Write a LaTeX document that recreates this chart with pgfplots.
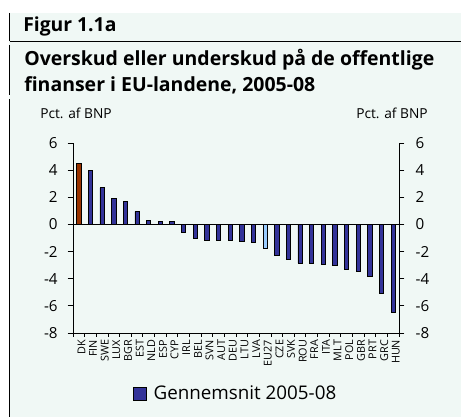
\documentclass[border=0pt]{standalone}
\usepackage{fontspec}
\setmainfont{Open Sans}[Ligatures=NoCommon]
\usepackage{pgfplots}
\pgfplotsset{compat=1.18}
\definecolor{mint}{HTML}{F0F8F5}
\definecolor{barblue}{HTML}{333399}
\definecolor{dkred}{HTML}{993300}
\definecolor{eulight}{HTML}{99CCFF}
\begin{document}
\begin{tikzpicture}[x=0.75pt,y=0.75pt]
\fill[white] (0,0) rectangle (461,417);
\fill[mint] (9,0) rectangle (461,404);
\draw[line width=0.9pt] (9.5,404)--(9.5,376);
\draw[line width=0.9pt] (9.5,375.5)--(461,375.5);
\draw[line width=0.9pt] (9.5,372)--(9.5,322);
\draw[line width=0.9pt] (9.5,318)--(9.5,0);
\node[anchor=base west,inner sep=0pt,font=\fontsize{14.5}{16}\selectfont\bfseries] at (23,385) {Figur 1.1a};
\node[anchor=base west,inner sep=0pt,font=\fontsize{14.6}{17}\selectfont\bfseries] at (24,351) {Overskud eller underskud på de offentlige};
\node[anchor=base west,inner sep=0pt,font=\fontsize{14.6}{17}\selectfont\bfseries] at (24,325) {finanser i EU-landene, 2005-08};
\node[anchor=base west,inner sep=0pt,font=\fontsize{10.3}{12}\selectfont] at (40,298) {Pct. af BNP};
\node[anchor=base east,inner sep=0pt,font=\fontsize{10.3}{12}\selectfont] at (428,298) {Pct. af BNP};
\coordinate (axpos) at (73,84);
\begin{axis}[
  at={(axpos)}, anchor=south west,
  scale only axis, width=244.5pt, height=142.5pt,
  xmin=-0.5, xmax=27.5, ymin=-8, ymax=6,
  axis x line*=bottom,
  axis line style={line width=0.6pt},
  tick align=outside,
  ytick={-8,-6,...,6}, ytick pos=left,
  major tick length=4pt, minor tick length=3pt,
  xtick={0,...,27},
  xticklabels={DK,FIN,SWE,LUX,BGR,EST,NLD,ESP,CYP,IRL,BEL,SVN,AUT,DEU,LTU,LVA,EU27,CZE,SVK,ROU,FRA,ITA,MLT,POL,GBR,PRT,GRC,HUN},
  major x tick style={draw=none},
  minor xtick={-0.5,0.5,...,27.5},
  tick style={line width=0.6pt, black},
  xticklabel style={rotate=90, anchor=east, font=\fontsize{8.1}{9}\selectfont, inner sep=1pt, yshift=-2pt},
  yticklabel style={font=\fontsize{11.4}{13}\selectfont, xshift=-4pt},
  /pgf/number format/assume math mode=true,
  ybar, bar width=3.2pt, bar shift=0pt,
  legend style={at={(0.5,-0.32)}, anchor=center, draw=none, fill=none, font=\fontsize{14.1}{15}\selectfont},
  legend image code/.code={\draw[fill=barblue,line width=0.5pt] (0pt,-4.7pt) rectangle (9.4pt,4.7pt);},
]
\addplot[draw=black, line width=0.5pt, fill=barblue] coordinates {
(1,4.0) (2,2.7) (3,1.9) (4,1.7) (5,0.95) (6,0.3) (7,0.25) (8,0.2)
(9,-0.55) (10,-1.05) (11,-1.15) (12,-1.15) (13,-1.15) (14,-1.25) (15,-1.3)
(17,-2.25) (18,-2.6) (19,-2.85) (20,-2.85) (21,-2.95) (22,-3.05) (23,-3.3)
(24,-3.45) (25,-3.85) (26,-5.05) (27,-6.5)};
\addlegendentry{\hspace{3.5pt}Gennemsnit 2005-08}
\addplot[draw=black, line width=0.5pt, fill=dkred, forget plot] coordinates {(0,4.5)};
\addplot[draw=black, line width=0.5pt, fill=eulight, forget plot] coordinates {(16,-1.75)};
\addplot[sharp plot, black, line width=0.6pt, forget plot] coordinates {(-0.5,0) (27.5,0)};
\end{axis}
\begin{axis}[
  at={(axpos)}, anchor=south west,
  scale only axis, width=244.5pt, height=142.5pt,
  xmin=-0.5, xmax=27.5, ymin=-8, ymax=6,
  axis x line=none, axis y line*=right,
  axis line style={line width=0.6pt},
  tick align=outside, major tick length=4pt,
  tick style={line width=0.6pt, black},
  ytick={-8,-6,...,6},
  yticklabel style={font=\fontsize{11.4}{13}\selectfont, xshift=5pt},
  /pgf/number format/assume math mode=true,
]
\end{axis}
\pgfresetboundingbox
\path (0,0) rectangle (461,417);
\end{tikzpicture}
\end{document}
